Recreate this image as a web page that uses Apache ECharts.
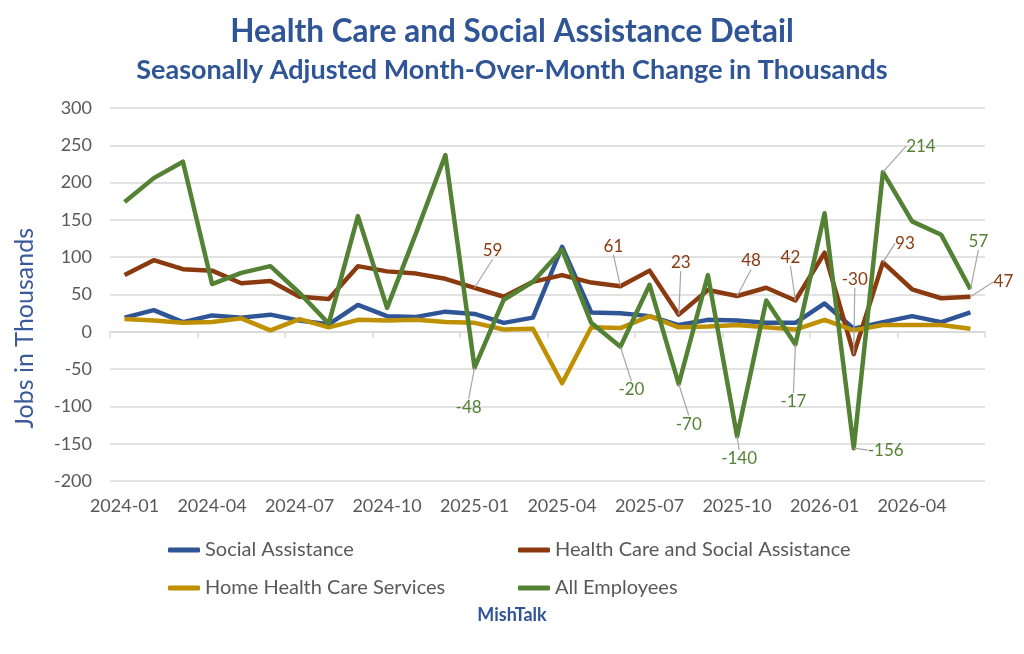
<!DOCTYPE html>
<html>
<head>
<meta charset="utf-8">
<title>Health Care and Social Assistance Detail</title>
<script src="https://cdn.jsdelivr.net/npm/echarts@6/dist/echarts.min.js"></script>
<style>
  html, body { margin: 0; padding: 0; background: #fff; }
  #chart { width: 1024px; height: 654px; }
</style>
</head>
<body>
<div id="chart"></div>
<script>
// months 2024-01 .. 2026-06
var months = [
    '2024-01','2024-02','2024-03','2024-04','2024-05','2024-06',
    '2024-07','2024-08','2024-09','2024-10','2024-11','2024-12',
    '2025-01','2025-02','2025-03','2025-04','2025-05','2025-06',
    '2025-07','2025-08','2025-09','2025-10','2025-11','2025-12',
    '2026-01','2026-02','2026-03','2026-04','2026-05','2026-06'
];

var socialAssistance = [19, 29, 13, 22, 19, 23, 15, 10, 36, 21, 20, 27, 24, 12, 19, 114, 26, 25, 21, 9, 16, 15, 12, 12, 38, 4, 13, 21, 13, 26];
var healthCareSocial = [76, 96, 84, 82, 65, 68, 47, 44, 88, 81, 78, 71, 59, 47, 67, 76, 66, 61, 82, 23, 56, 48, 59, 42, 106, -30, 93, 57, 45, 47];
var homeHealthCare   = [17, 15, 12, 13, 18, 2, 17, 6, 16, 15, 16, 13, 12, 3, 4, -69, 6, 5, 21, 6, 7, 9, 6, 3, 16, 2, 9, 9, 9, 4];
var allEmployees     = [174, 206, 228, 64, 79, 88, 52, 11, 155, 32, 133, 237, -48, 43, 67, 110, 12, -20, 63, -70, 76, -140, 42, -17, 159, -156, 214, 148, 130, 57];

// which points get a value label, and where it sits relative to the point
var brownLabels = {12: [18, -37], 17: [-7, -40], 19: [2, -52], 21: [14, -35], 23: [-5, -43], 25: [1, -75], 26: [22, -19], 29: [33, -15]};
var greenLabels = {12: [-6, 40], 17: [11, 43], 19: [10, 40], 21: [2, 22], 23: [-2, 57], 25: [32, 2], 26: [38, -26], 29: [8, -48]};

var names = ['Social Assistance', 'Health Care and Social Assistance', 'Home Health Care Services', 'All Employees'];
var colors = ['#2F5597', '#8B3A0F', '#BF9000', '#548235'];

var fontFam = 'Lato, "Open Sans", sans-serif';

function makeSeries(name, values, color, labels) {
    return {
        name: name,
        type: 'line',
        data: values,
        symbol: 'circle',
        symbolSize: 0.01,
        showSymbol: true,
        lineStyle: { width: 4.5, color: color, join: 'round' },
        itemStyle: { color: color },
        emphasis: { disabled: true },
        label: {
            show: !!labels,
            fontFamily: fontFam,
            fontSize: 17,
            color: color,
            position: 'inside',
            formatter: function (p) {
                return labels && labels[p.dataIndex] ? String(p.value) : '';
            }
        },
        labelLine: { show: !!labels, lineStyle: { color: '#a6a6a6', width: 1.2 }, length2: 0 },
        labelLayout: function (p) {
            if (!labels || !labels[p.dataIndex]) return {};
            var off = labels[p.dataIndex];
            return { dx: off[0], dy: off[1] };
        }
    };
}

var myChart = echarts.init(document.getElementById('chart'));

var legendRows = [
    { left: 168, top: 540, name: names[0] },
    { left: 518, top: 540, name: names[1] },
    { left: 168, top: 578, name: names[2] },
    { left: 518, top: 578, name: names[3] }
];

var option = {
    backgroundColor: '#fff',
    animation: false,
    title: [{
        text: 'Health Care and Social Assistance Detail',
        left: 'center', top: 11,
        textStyle: { fontFamily: fontFam, fontSize: 31.5, fontWeight: 'bold', color: '#2F5597' }
    }, {
        text: 'Seasonally Adjusted Month-Over-Month Change in Thousands',
        left: 'center', top: 52,
        textStyle: { fontFamily: fontFam, fontSize: 27, fontWeight: 'bold', color: '#2F5597' }
    }, {
        text: 'MishTalk',
        left: 'center', top: 601,
        textStyle: { fontFamily: fontFam, fontSize: 18, fontWeight: 'bold', color: '#2F5597' }
    }],
    legend: legendRows.map(function (r) {
        return {
            data: [r.name],
            left: r.left, top: r.top,
            icon: 'roundRect',
            itemWidth: 32, itemHeight: 5,
            itemGap: 0,
            padding: 0,
            selectedMode: false,
            textStyle: { fontFamily: fontFam, fontSize: 20, color: '#595959' }
        };
    }),
    grid: { left: 110, right: 39, top: 108, bottom: 173 },
    xAxis: [{
        type: 'category',
        data: months,
        boundaryGap: true,
        position: 'bottom',
        axisLine: { show: false, onZero: false },
        axisTick: { show: false },
        axisLabel: { interval: 2, margin: 16, fontFamily: fontFam, fontSize: 18, color: '#595959' },
        splitLine: { show: false }
    }, {
        type: 'category',
        data: months,
        boundaryGap: true,
        position: 'bottom',
        axisLine: { show: true, onZero: true, lineStyle: { color: '#d9d9d9', width: 1.5 } },
        axisTick: { show: true, interval: 2, length: 6, lineStyle: { color: '#d9d9d9', width: 1.5 } },
        axisLabel: { show: false },
        splitLine: { show: false }
    }],
    yAxis: {
        type: 'value',
        min: -200, max: 300, interval: 50,
        axisLine: { show: false },
        axisTick: { show: false },
        axisLabel: { margin: 18, fontFamily: fontFam, fontSize: 18, color: '#595959' },
        splitLine: { lineStyle: { color: '#d9d9d9', width: 1.5 } }
    },
    graphic: [{
        type: 'text',
        left: 12, top: 228,
        rotation: Math.PI / 2,
        style: {
            text: 'Jobs in Thousands',
            font: '25px ' + fontFam,
            fill: '#3A5A99'
        }
    }],
    series: [
        makeSeries(names[0], socialAssistance, colors[0], null),
        makeSeries(names[1], healthCareSocial, colors[1], brownLabels),
        makeSeries(names[2], homeHealthCare, colors[2], null),
        makeSeries(names[3], allEmployees, colors[3], greenLabels)
    ]
};

myChart.setOption(option);
</script>
</body>
</html>
